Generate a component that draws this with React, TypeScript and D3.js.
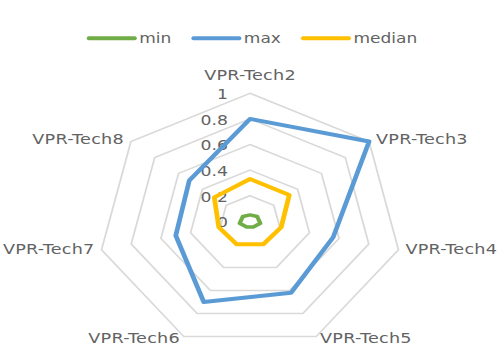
import React, { useEffect, useRef } from 'react';
import * as d3 from 'd3';

const categories = ['VPR-Tech2', 'VPR-Tech3', 'VPR-Tech4', 'VPR-Tech5', 'VPR-Tech6', 'VPR-Tech7', 'VPR-Tech8'];
const seriesNames = ['min', 'max', 'median'];
const minValues = [0.05, 0.06, 0.07, 0.05, 0.05, 0.07, 0.06];
const maxValues = [0.8, 1.0, 0.56, 0.62, 0.7, 0.5, 0.51];
const medianValues = [0.33, 0.33, 0.21, 0.2, 0.2, 0.21, 0.3];
const tickValues = [0, 0.2, 0.4, 0.6, 0.8, 1];
const tickLabels = ['0', '0.2', '0.4', '0.6', '0.8', '1'];
const seriesColors = ['#70AD47', '#5B9BD5', '#FFC000'];

export default function App() {
  const ref = useRef<SVGSVGElement>(null);

  useEffect(() => {
    const svg = d3.select(ref.current);
    svg.selectAll('*').remove();
    const cx = 250, cy = 221.3, R = 128, sx = 1.19;
    const font = 'DejaVu Sans, sans-serif';
    const textColor = '#636363';
    const n = categories.length;
    const angle = d3.scaleLinear().domain([0, n]).range([0, 2 * Math.PI]);
    const r = d3.scaleLinear().domain([0, 1]).range([0, R]);
    const seriesData = [minValues, maxValues, medianValues];

    const g = svg.append('g').attr('transform', `translate(${cx},${cy}) scale(${sx},1)`);

    // grid rings
    tickValues.filter((t) => t > 0).forEach((t) => {
      const gen = d3.lineRadial<number>()
        .angle((_, i) => angle(i))
        .radius(() => r(t))
        .curve(d3.curveLinearClosed);
      g.append('path')
        .attr('d', gen(categories.map(() => t)))
        .attr('fill', 'none')
        .attr('stroke', '#D9D9D9')
        .attr('stroke-width', 1.5);
    });

    // tick labels
    tickValues.forEach((t, i) => {
      g.append('text')
        .attr('x', -18.5)
        .attr('y', -r(t))
        .attr('dy', '0.4em')
        .attr('text-anchor', 'end')
        .attr('font-family', font)
        .attr('font-size', 14.5)
        .attr('fill', textColor)
        .text(tickLabels[i]);
    });

    // series
    const line = d3.lineRadial<number>()
      .angle((_, i) => angle(i))
      .radius((d) => r(d))
      .curve(d3.curveLinearClosed);
    seriesData.forEach((vals, si) => {
      g.append('path')
        .attr('d', line(vals))
        .attr('fill', 'none')
        .attr('stroke', seriesColors[si])
        .attr('stroke-width', si === 0 ? 3.5 : 4)
        .attr('stroke-linejoin', 'round');
    });

    // category labels
    categories.forEach((c, i) => {
      const a = angle(i);
      const s = Math.sin(a);
      const co = -Math.cos(a);
      const vx = s * R;
      const vy = co * R;
      let x = vx, y = vy, anchor = 'middle';
      if (Math.abs(s) < 0.01) {
        y = vy - 13;
      } else {
        const gap = (Math.abs(co) > 0.8 ? 4 : 7) / sx;
        anchor = s > 0 ? 'start' : 'end';
        x = vx + (s > 0 ? gap : -gap);
        y = vy + 4 + 3 * co;
      }
      g.append('text')
        .attr('x', x)
        .attr('y', y)
        .attr('text-anchor', anchor)
        .attr('font-family', font)
        .attr('font-size', 14.8)
        .attr('letter-spacing', 0.2)
        .attr('fill', textColor)
        .text(c);
    });

    // legend
    const lg = svg.append('g');
    const items = seriesNames.map((name) => {
      const t = lg.append('text')
        .attr('font-family', font)
        .attr('font-size', 14.3)
        .attr('fill', textColor)
        .text(name);
      const w = (t.node() as SVGTextElement).getComputedTextLength() * sx;
      return { t, w };
    });
    const lineW = 50, textOff = 52.5, gapAfter = 20;
    const total = items.reduce((acc, it) => acc + textOff + it.w, 0) + gapAfter * (items.length - 1);
    let x0 = 252 - total / 2;
    const ly = 38.3;
    items.forEach((it, i) => {
      lg.append('line')
        .attr('x1', x0 + 2)
        .attr('x2', x0 + lineW - 2)
        .attr('y1', ly)
        .attr('y2', ly)
        .attr('stroke', seriesColors[i])
        .attr('stroke-width', 4)
        .attr('stroke-linecap', 'round');
      it.t.attr('transform', `translate(${x0 + textOff},${ly + 5}) scale(${sx},1)`);
      x0 += textOff + it.w + gapAfter;
    });
  }, []);

  return (
    <svg
      ref={ref}
      width={498}
      height={346}
      style={{ position: 'absolute', left: 0, top: 0, background: '#fff' }}
    />
  );
}
